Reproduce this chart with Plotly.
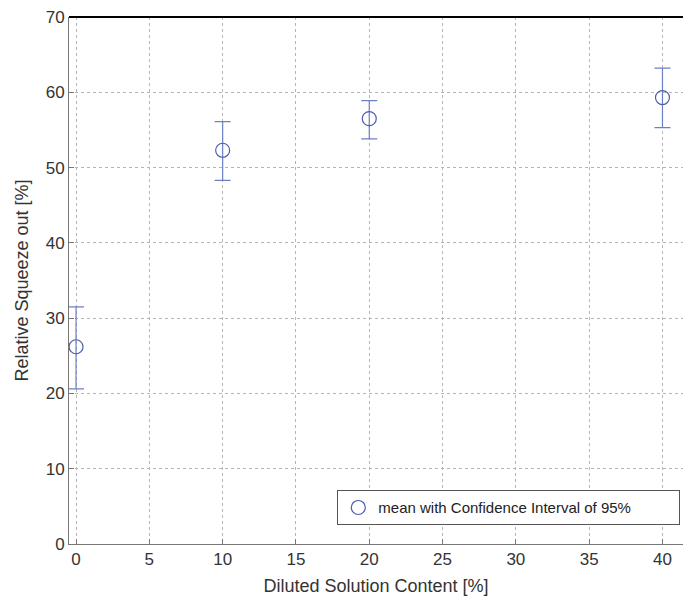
import plotly.graph_objects as go

content = [0, 10, 20, 40]
mean_squeeze = [26.2, 52.3, 56.5, 59.3]
ci_upper = [31.5, 56.1, 58.9, 63.2]
ci_lower = [20.6, 48.3, 53.8, 55.3]

err_plus = [u - m for u, m in zip(ci_upper, mean_squeeze)]
err_minus = [m - l for m, l in zip(mean_squeeze, ci_lower)]

FONT = "Liberation Sans, Arial, sans-serif"

fig = go.Figure()
fig.add_trace(go.Scatter(
    x=content, y=mean_squeeze, mode="markers",
    name="mean with Confidence Interval of 95%",
    marker=dict(symbol="circle-open", size=14, color="#4a5cae", line=dict(width=1.2, color="#4a5cae")),
    error_y=dict(type="data", symmetric=False, array=err_plus, arrayminus=err_minus,
                 color="#6c80c6", thickness=1.2, width=8),
))

fig.update_layout(
    width=683, height=616,
    margin=dict(l=69, r=0, t=17, b=72),
    paper_bgcolor="white", plot_bgcolor="white",
    font=dict(family=FONT, size=17, color="#333333"),
    showlegend=True,
    legend=dict(x=0.437, y=0.102, xanchor="left", yanchor="top", orientation="h",
                bgcolor="white", bordercolor="#555555", borderwidth=1,
                font=dict(size=15, color="#222222"),
                entrywidth=296, entrywidthmode="pixels"),
    xaxis=dict(range=[-0.48, 41.4], tickvals=[0, 5, 10, 15, 20, 25, 30, 35, 40],
               showgrid=True, gridcolor="#b5b5b5", griddash="dot", gridwidth=1,
               zeroline=False, showline=True, linecolor="#777777", linewidth=1,
               ticks="inside", ticklen=5, tickcolor="#777777",
               title=dict(text="Diluted Solution Content [%]", font=dict(size=18, color="#333333"), standoff=10)),
    yaxis=dict(range=[0, 70], tickvals=[0, 10, 20, 30, 40, 50, 60, 70],
               showgrid=True, gridcolor="#b5b5b5", griddash="dot", gridwidth=1,
               zeroline=False, showline=True, linecolor="#777777", linewidth=1,
               ticks="inside", ticklen=5, tickcolor="#777777",
               title=dict(text="Relative Squeeze out [%]", font=dict(size=18, color="#333333"), standoff=12)),
)

# thick black top border
fig.add_shape(type="line", xref="paper", yref="paper", x0=0, x1=1, y0=1, y1=1,
              line=dict(color="black", width=2))

fig.write_html("out.html")
